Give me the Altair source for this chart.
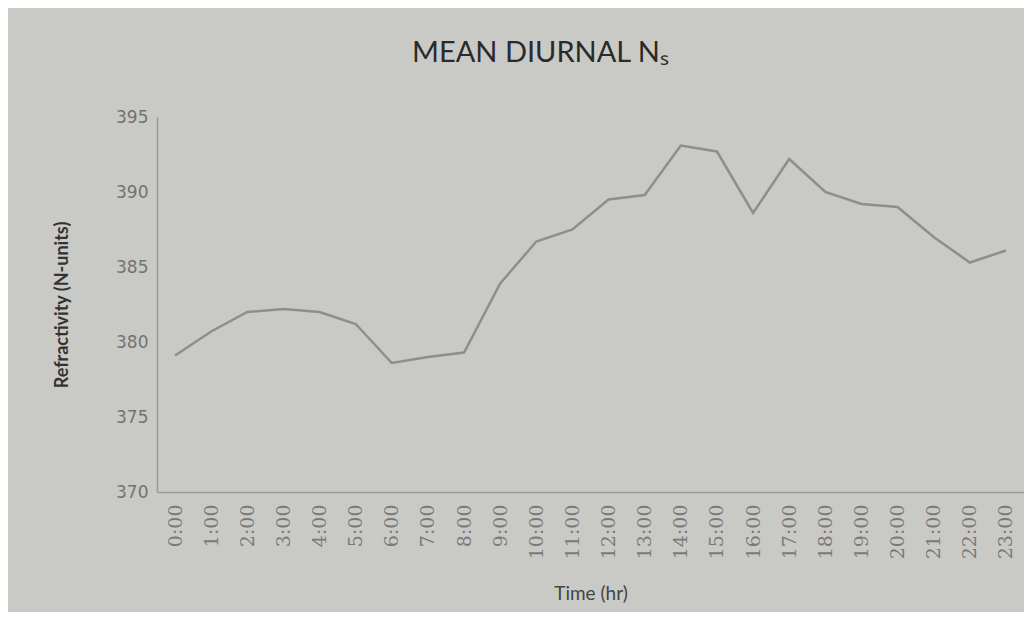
import altair as alt
import pandas as pd

hours = [f"{h}:00" for h in range(24)]
refractivity = [379.1, 380.7, 382.0, 382.2, 382.0, 381.2, 378.6, 379.0, 379.3, 383.9,
                386.7, 387.5, 389.5, 389.8, 393.1, 392.7, 388.6, 392.2, 390.0, 389.2,
                389.0, 387.0, 385.3, 386.1]

df = pd.DataFrame({"Time": hours, "N": refractivity})

chart = alt.Chart(df).mark_line(color="#8e8f8c", strokeWidth=2.5).encode(
    x=alt.X("Time:O", sort=hours,
            scale=alt.Scale(type="point", padding=0.5),
            axis=alt.Axis(title="Time  (hr)", labelAngle=-90, labelAlign="right",
                          labelBaseline="middle", labelPadding=12, ticks=False,
                          labelFont="DejaVu Serif", labelFontSize=19, labelColor="#7a7a78",
                          domainColor="#9a9a98", domainWidth=1.5,
                          titleFont="Lato", titleFontSize=19, titleFontWeight="normal",
                          titleColor="#444444", titlePadding=26, grid=False)),
    y=alt.Y("N:Q", scale=alt.Scale(domain=[370, 395], nice=False, zero=False),
            axis=alt.Axis(title="Refractivity  (N-units)", values=[370, 375, 380, 385, 390, 395],
                          ticks=False, labelPadding=9, labelFont="DejaVu Sans",
                          labelFontSize=17, labelColor="#737371",
                          domainColor="#9a9a98", domainWidth=1.5,
                          titleFont="Lato", titleFontSize=18, titleFontWeight="bold",
                          titleColor="#333333", titlePadding=44, grid=False)),
).properties(
    width=867, height=375,
    title=alt.Title("MEAN DIURNAL Nₛ", font="Lato", fontSize=29, fontWeight="normal",
                    color="#2a2a2a", anchor="middle", dx=-50, offset=40),
    autosize=alt.AutoSizeParams(type="none"),
    padding={"left": 149, "top": 109, "right": 0, "bottom": 120},
    background="#c9cac6",
).configure_view(stroke=None)

chart.save("out.html", embed_options={"renderer": "svg", "actions": False})
